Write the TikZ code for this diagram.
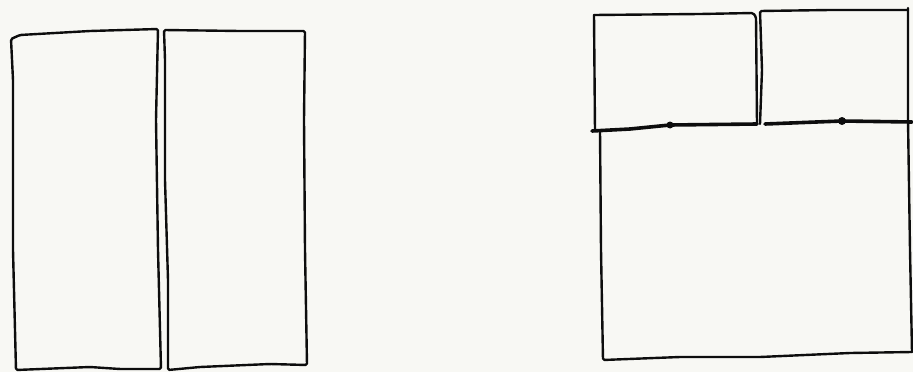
\documentclass[tikz,border=0pt]{standalone}
\definecolor{paper}{HTML}{F8F8F4}
\definecolor{ink}{HTML}{0D0D0D}
\begin{document}
\begin{tikzpicture}[x=1pt,y=-1pt,
  sketch/.style={draw=ink,line width=2.4pt,line join=round,line cap=round,rounded corners=1.5pt},
  heavy/.style={draw=ink,line width=3.6pt,line cap=round},
  knot/.style={fill=ink,circle,inner sep=0pt,minimum size=7pt}]
\fill[paper] (0,0) rectangle (913,372);
\useasboundingbox (0,0) rectangle (913,372);
% left pair
\draw[sketch] (11,39) -- (20,35) -- (90,31) -- (158,29) -- (156,120) -- (158,250) -- (161,369) -- (120,369) -- (90,367) -- (16,370) -- (13,250) -- (13,80) -- cycle;
\draw[sketch] (164,30) -- (240,31) -- (305,31) -- (304,120) -- (305,250) -- (307,365) -- (270,364) -- (200,367) -- (168,370) -- (168,280) -- (165,180) -- (165,60) -- cycle;
% right: top small rects
\draw[sketch] (594,15) -- (700,14) -- (753,13) -- (756,17) -- (757,124);
\draw[sketch] (594,15) -- (595,131);
\draw[sketch] (760,124) -- (762,70) -- (760,11) -- (830,10) -- (908,10);
% big rect
\draw[sketch] (600,131) -- (601,250) -- (603,360) -- (680,357) -- (760,357) -- (850,353) -- (912,352);
\draw[sketch] (908,8) -- (908,120) -- (910,250) -- (912,352);
% thick line with two knots
\coordinate (a) at (592,131);
\coordinate (k1) at (670,125);
\coordinate (m1) at (757,124);
\coordinate (m2) at (765,124);
\coordinate (k2) at (842,121);
\coordinate (b) at (912,122);
\draw[heavy] (a) -- (630,129) -- (k1) -- (m1);
\draw[heavy] (m2) -- (k2) -- (b);
\node[knot] at (k1) {};
\node[knot,minimum size=8pt] at (k2) {};
\end{tikzpicture}
\end{document}
